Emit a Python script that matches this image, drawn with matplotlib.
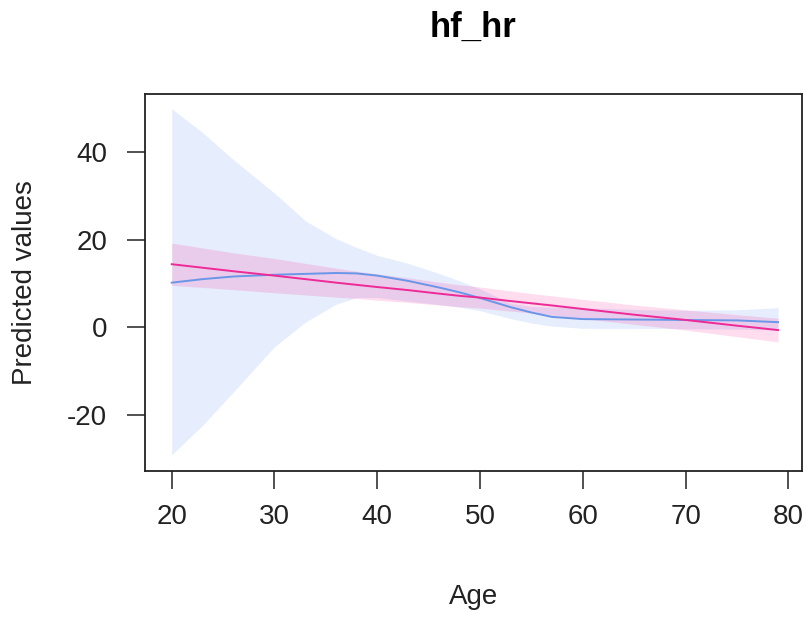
import numpy as np
import matplotlib
matplotlib.use("Agg")
import matplotlib.pyplot as plt

plt.rcParams['font.family'] = ['Liberation Sans', 'DejaVu Sans']

age = [20, 23, 26, 30, 33, 36, 38, 40, 43, 46, 48, 50, 53, 55, 57, 60, 65, 70, 75, 79]

# blue model (smooth fit)
blue_fit = [10.2, 11.0, 11.6, 12.0, 12.2, 12.4, 12.3, 11.8, 10.6, 9.1, 8.0, 6.7,
            4.6, 3.4, 2.4, 1.9, 1.8, 1.7, 1.6, 1.2]
blue_lo = [-29.0, -22.3, -14.7, -4.4, 1.2, 5.3, 6.8, 6.8, 6.0, 5.2, 4.6, 3.8,
           2.0, 1.0, 0.3, -0.2, -0.2, -0.3, -0.4, -0.6]
blue_hi = [49.8, 44.4, 38.2, 30.6, 24.3, 20.2, 18.2, 16.4, 14.6, 12.3, 10.6, 8.8,
           5.5, 4.8, 4.6, 4.5, 4.1, 3.9, 4.0, 4.5]

# pink model (linear fit)
pink_fit = [14.4, 13.6, 12.8, 11.8, 11.0, 10.2, 9.7, 9.2, 8.5, 7.7, 7.2, 6.8,
            6.0, 5.5, 5.0, 4.2, 2.9, 1.7, 0.4, -0.6]
pink_lo = [9.6, 9.1, 8.6, 7.9, 7.4, 6.9, 6.6, 6.2, 5.7, 5.1, 4.7, 4.4,
           3.7, 3.3, 2.8, 2.0, 0.7, -0.6, -2.1, -3.3]
pink_hi = [19.2, 18.1, 17.0, 15.7, 14.6, 13.5, 12.8, 12.2, 11.3, 10.3, 9.7, 9.2,
           8.3, 7.7, 7.2, 6.4, 5.1, 4.0, 2.9, 2.1]

xticks = [20, 30, 40, 50, 60, 70, 80]
yticks = [-20, 0, 20, 40]

W, H = 806, 617
fig = plt.figure(figsize=(W / 100, H / 100), dpi=100)
ax = fig.add_axes([144.7 / W, 1 - 471 / H, (802 - 144.7) / W, (471 - 94.3) / H])

ax.fill_between(age, blue_lo, blue_hi, color='#6495ED', alpha=0.16, linewidth=0)
ax.fill_between(age, pink_lo, pink_hi, color='#FF1493', alpha=0.15, linewidth=0)
ax.plot(age, blue_fit, color='#6A96E8', linewidth=1.4)
ax.plot(age, pink_fit, color='#EE2A96', linewidth=1.4)

ax.set_xlim(17.37, 81.33)
ax.set_ylim(-32.7, 53.1)
ax.set_xticks(xticks)
ax.set_yticks(yticks)
ax.set_xticklabels([str(t) for t in xticks], fontsize=20)
ax.set_yticklabels([str(t) for t in yticks], fontsize=20)
ax.tick_params(axis='x', length=13, width=1.1, pad=11, colors='#222222')
ax.tick_params(axis='y', length=13, width=1.1, pad=14, colors='#222222')
for s in ax.spines.values():
    s.set_linewidth(1.3)
    s.set_color('#222222')

fig.text(473.4 / W, 1 - 597 / H, 'Age', ha='center', va='center', fontsize=20, color='#222222')
fig.text(25 / W, 1 - 283 / H, 'Predicted values', ha='center', va='center',
         rotation=90, fontsize=20, color='#222222')
fig.text(473.4 / W, 1 - 37 / H, 'hf_hr', ha='center', va='baseline',
         fontsize=25, fontweight='bold')

fig.savefig('out.png', dpi=100)
